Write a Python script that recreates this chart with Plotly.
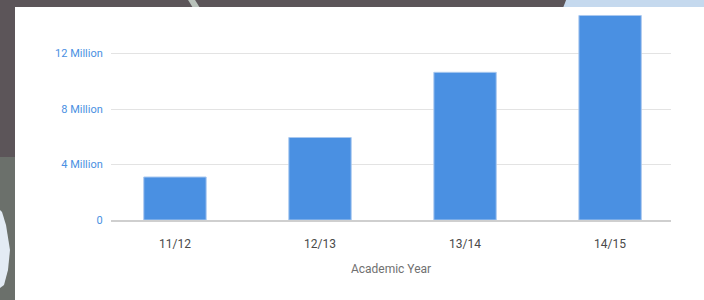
import plotly.graph_objects as go

years = ["11/12", "12/13", "13/14", "14/15"]
values = [3.1e6, 5.95e6, 10.65e6, 14.75e6]
tick_vals = [0, 4e6, 8e6, 12e6]
tick_text = ["0", "4 Million", "8 Million", "12 Million"]

fig = go.Figure(go.Bar(
    x=years, y=values, width=0.43,
    marker=dict(color="#4a90e2", line=dict(color="#a9c8ef", width=1)),
    hoverinfo="skip",
))

L, R, T, B = 111, 33, 12, 80
W, H = 704, 300
pw, ph = W - L - R, H - T - B

def px(x):
    return (x - L) / pw

def py(y):
    return (H - B - y) / ph

shapes = [
    # greenish lower-left background
    dict(type="rect", xref="paper", yref="paper", x0=px(-5), x1=px(16), y0=py(305), y1=py(157),
         fillcolor="#6b706b", line=dict(width=0), layer="below"),
    # light blue patch top-right of background (slanted edge)
    dict(type="path", xref="paper", yref="paper",
         path=f"M {px(563)} {py(8)} L {px(568)} {py(-5)} L {px(710)} {py(-5)} L {px(710)} {py(8)} Z",
         fillcolor="#c5d9ee", line=dict(width=0), layer="below"),
    # light streak at top
    dict(type="path", xref="paper", yref="paper",
         path=f"M {px(185)} {py(-5)} L {px(192)} {py(-5)} L {px(200)} {py(8)} L {px(193)} {py(8)} Z",
         fillcolor="#b9c2bb", line=dict(width=0), layer="below"),
    # light blob bottom-left
    dict(type="path", xref="paper", yref="paper",
         path=(f"M {px(-5)} {py(205)} L {px(2)} {py(212)} L {px(6)} {py(225)} L {px(10)} {py(250)} "
               f"L {px(8)} {py(270)} L {px(4)} {py(285)} L {px(-5)} {py(292)} Z"),
         fillcolor="#e3ebf4", line=dict(width=0), layer="below"),
    # white card
    dict(type="rect", xref="paper", yref="paper", x0=px(15), x1=px(710), y0=py(305), y1=py(7),
         fillcolor="white", line=dict(width=0), layer="below"),
]

fig.update_layout(
    width=W, height=H,
    margin=dict(l=L, r=R, t=T, b=B),
    paper_bgcolor="#5c5559",
    plot_bgcolor="white",
    font=dict(family="Roboto", size=12, color="#444444"),
    showlegend=False,
    shapes=shapes,
    hovermode=False,
    xaxis=dict(
        range=[-0.441, 3.42], showgrid=False, showline=True, linecolor="#cfcfcf", linewidth=1.5,
        ticks="outside", ticklen=12, tickcolor="rgba(0,0,0,0)",
        tickfont=dict(size=12, color="#4a4a4a"),
        title=dict(text="Academic Year", font=dict(size=12, color="#707070"), standoff=14),
        fixedrange=True,
    ),
    yaxis=dict(
        range=[0, 15e6], tickvals=tick_vals, ticktext=tick_text,
        showgrid=True, gridcolor="#e3e3e3", gridwidth=1, zeroline=False,
        ticks="outside", ticklen=5, tickcolor="rgba(0,0,0,0)",
        tickfont=dict(size=11, color="#4a90e2"),
        fixedrange=True,
    ),
)

fig.write_html(
    "out.html",
    config={"displayModeBar": False},
    post_script="document.body.style.margin='0';document.body.style.overflow='hidden';document.body.style.background='#5c5559';",
)
